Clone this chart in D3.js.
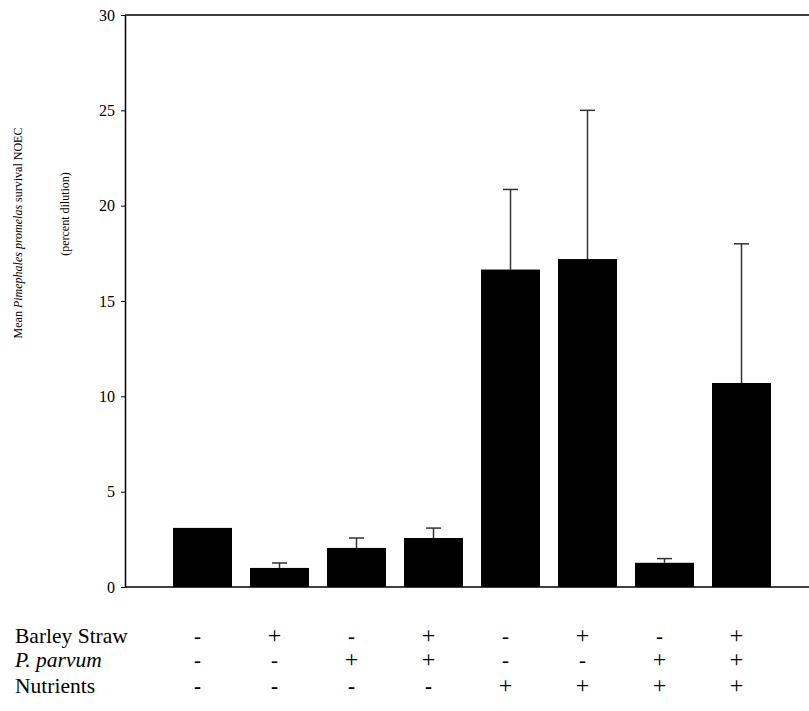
<!DOCTYPE html>
<html>
<head>
<meta charset="utf-8">
<script src="https://cdn.jsdelivr.net/npm/d3@7"></script>
<style>
  body { margin: 0; background: #fff; }
  text { font-family: "Liberation Serif", "Times New Roman", serif; fill: #000; }
</style>
</head>
<body>
<div id="chart"></div>
<script>
// Data
const treatments = ["T1", "T2", "T3", "T4", "T5", "T6", "T7", "T8"];
const means = [3.1, 1.0, 2.05, 2.57, 16.65, 17.2, 1.27, 10.7];
const errors = [0, 0.26, 0.52, 0.52, 4.2, 7.8, 0.22, 7.3];
const barleyStraw = ["-", "+", "-", "+", "-", "+", "-", "+"];
const pParvum = ["-", "-", "+", "+", "-", "-", "+", "+"];
const nutrients = ["-", "-", "-", "-", "+", "+", "+", "+"];
const yTicks = [0, 5, 10, 15, 20, 25, 30];

const svgWidth = 809;
const svgHeight = 711;

const svg = d3.select("#chart")
  .append("svg")
  .attr("width", svgWidth)
  .attr("height", svgHeight);

const axisX = 125;
const y = d3.scaleLinear().domain([0, 30]).range([587, 15]);
const x = d3.scaleBand()
  .domain(treatments)
  .range([164, 780])
  .paddingInner(0.234)
  .paddingOuter(0.117);

// top frame line
svg.append("line")
  .attr("x1", axisX).attr("x2", svgWidth)
  .attr("y1", y(30)).attr("y2", y(30))
  .attr("stroke", "#000").attr("stroke-width", 1.5);

// error bars (drawn under bars)
const errG = svg.append("g");
treatments.forEach((t, i) => {
  if (!errors[i]) return;
  const cx = x(t) + x.bandwidth() / 2;
  errG.append("line")
    .attr("x1", cx).attr("x2", cx)
    .attr("y1", y(means[i])).attr("y2", y(means[i] + errors[i]))
    .attr("stroke", "#333").attr("stroke-width", 1.5);
  errG.append("line")
    .attr("x1", cx - 7.5).attr("x2", cx + 7.5)
    .attr("y1", y(means[i] + errors[i])).attr("y2", y(means[i] + errors[i]))
    .attr("stroke", "#333").attr("stroke-width", 1.5);
});

// bars
svg.append("g").selectAll("rect")
  .data(means)
  .join("rect")
  .attr("x", (d, i) => x(treatments[i]))
  .attr("width", x.bandwidth())
  .attr("y", d => y(d))
  .attr("height", d => y(0) - y(d))
  .attr("fill", "#000");

// y axis
const yAxis = svg.append("g")
  .attr("transform", `translate(${axisX},0)`)
  .call(d3.axisLeft(y).tickValues(yTicks).tickSize(4).tickSizeOuter(0).tickPadding(6));
yAxis.select(".domain").attr("stroke-width", 1.5);
yAxis.selectAll("line").attr("stroke-width", 1);
yAxis.selectAll("text")
  .style("font-family", '"Liberation Serif", serif')
  .style("font-size", "16px");

// baseline
svg.append("line")
  .attr("x1", axisX).attr("x2", svgWidth)
  .attr("y1", y(0)).attr("y2", y(0))
  .attr("stroke", "#000").attr("stroke-width", 1.5);

// y axis title
const title = svg.append("text")
  .attr("transform", "translate(22,233) rotate(-90)")
  .attr("text-anchor", "middle")
  .style("font-size", "12px");
title.append("tspan").text("Mean ");
title.append("tspan").style("font-style", "italic").text("Pimephales promelas");
title.append("tspan").text(" survival NOEC");

svg.append("text")
  .attr("transform", "translate(69,214) rotate(-90)")
  .attr("text-anchor", "middle")
  .style("font-size", "12px")
  .text("(percent dilution)");

// treatment table below the axis
const rows = [
  { label: "Barley Straw", italic: false, vals: barleyStraw, yy: 643, bold: false },
  { label: "P. parvum", italic: true, vals: pParvum, yy: 667, bold: false },
  { label: "Nutrients", italic: false, vals: nutrients, yy: 693, bold: true }
];
rows.forEach(r => {
  svg.append("text")
    .attr("x", 15).attr("y", r.yy)
    .style("font-size", "21.5px")
    .style("font-style", r.italic ? "italic" : "normal")
    .text(r.label);
  svg.append("g").selectAll("text")
    .data(r.vals)
    .join("text")
    .attr("x", (d, i) => x(treatments[i]) + x.bandwidth() / 2 - 5)
    .attr("y", r.yy)
    .attr("text-anchor", "middle")
    .style("font-size", d => d === "+" ? "24px" : "21px")
    .style("font-weight", d => (r.bold && d === "-") ? "bold" : "normal")
    .text(d => d);
});
</script>
</body>
</html>
